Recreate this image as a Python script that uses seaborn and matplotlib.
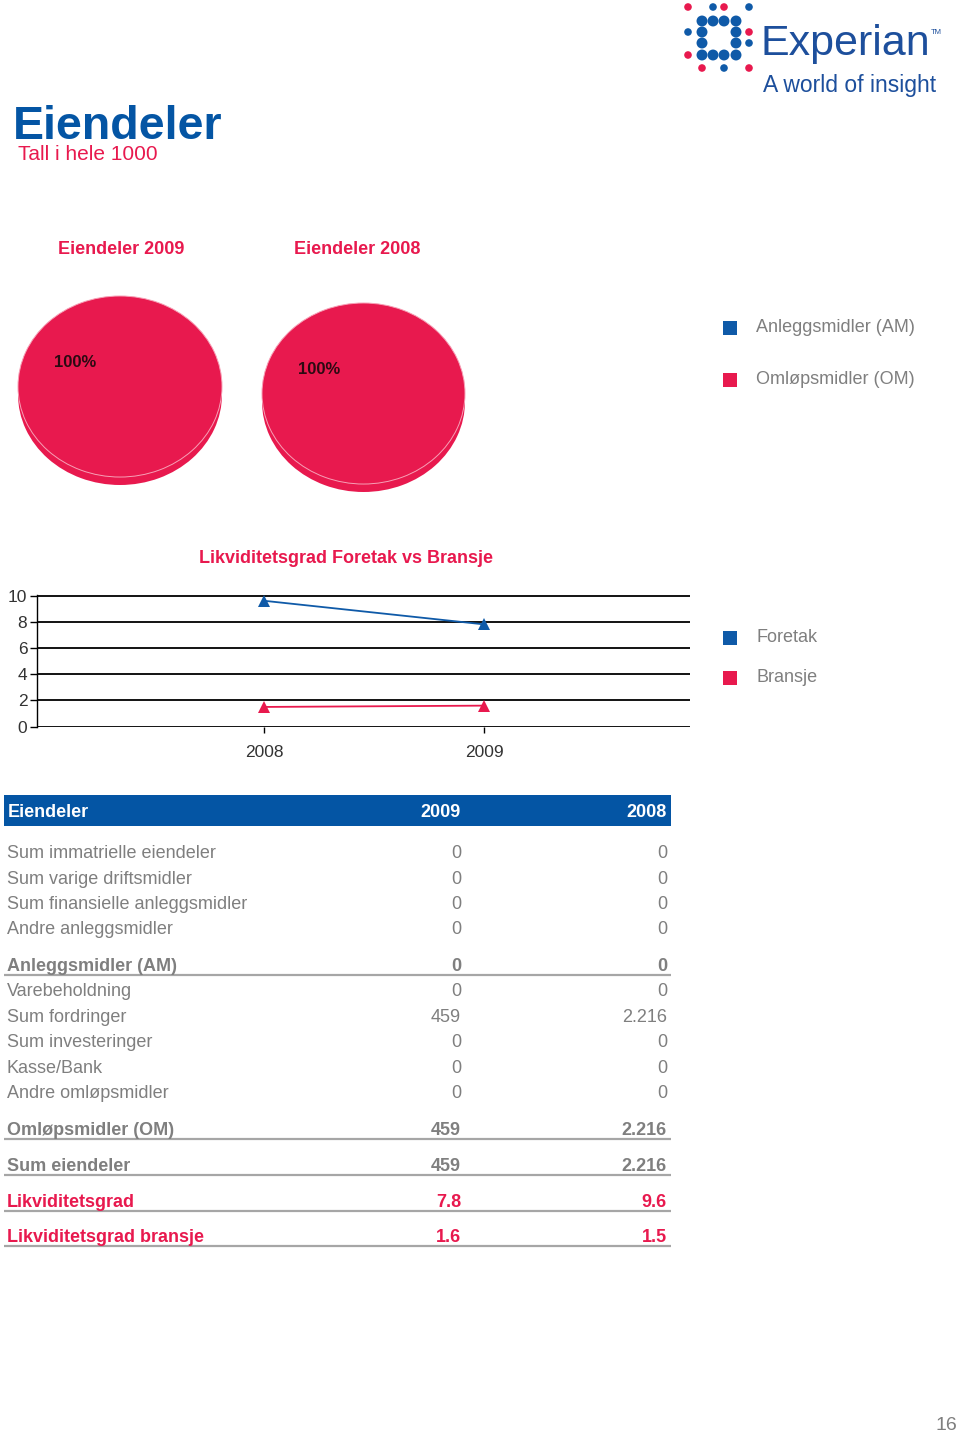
import numpy as np
import pandas as pd
import matplotlib
matplotlib.use("Agg")
import matplotlib.pyplot as plt
from matplotlib.patches import Rectangle
import seaborn as sns

# ---------------- data ----------------
pie_years = ["2009", "2008"]
pie_categories = ["Anleggsmidler (AM)", "Omløpsmidler (OM)"]
am_values = [0, 0]          # 2009, 2008
om_values = [459, 2216]     # 2009, 2008

line_years = [2008, 2009]
foretak = [9.6, 7.8]
bransje = [1.5, 1.6]
line_series = ["Foretak", "Bransje"]

table_cols = ["Eiendeler", "2009", "2008"]
table_labels = ["Sum immatrielle eiendeler", "Sum varige driftsmidler",
                "Sum finansielle anleggsmidler", "Andre anleggsmidler",
                "Anleggsmidler (AM)", "Varebeholdning", "Sum fordringer",
                "Sum investeringer", "Kasse/Bank", "Andre omløpsmidler",
                "Omløpsmidler (OM)", "Sum eiendeler", "Likviditetsgrad",
                "Likviditetsgrad bransje"]
table_2009 = ["0", "0", "0", "0", "0", "0", "459", "0", "0", "0", "459", "459", "7.8", "1.6"]
table_2008 = ["0", "0", "0", "0", "0", "0", "2.216", "0", "0", "0", "2.216", "2.216", "9.6", "1.5"]

# ---------------- style ----------------
sns.set_theme(style="white")
plt.rcParams["font.family"] = ["Liberation Sans", "DejaVu Sans"]

BLUE = "#0F5AA8"
HDR_BLUE = "#0455A4"
PINK = "#E8194E"
GRAY = "#7F7F7F"
LINE_GRAY = "#A6A6A6"

W, H = 960, 1436
fig = plt.figure(figsize=(W / 100, H / 100), dpi=100)
fig.patch.set_facecolor("white")


def ax_at(x0, y0, x1, y1):
    return fig.add_axes([x0 / W, 1 - y1 / H, (x1 - x0) / W, (y1 - y0) / H])


# ---------------- pies ----------------
def draw_pie(box, am, om):
    ax = ax_at(*box)
    depth = 0.088
    vals = [am, om]
    cols = [BLUE, PINK]
    # side (3D depth)
    ax.pie(vals, colors=cols, radius=1, center=(0, -depth), startangle=-31.5,
           wedgeprops=dict(linewidth=0), normalize=True)
    ax.pie(vals, colors=cols, radius=1, center=(0, 0), startangle=-31.5,
           autopct=lambda p: f"{p:.0f}%" if p > 0 else "", pctdistance=0.516,
           textprops=dict(fontsize=12, fontweight="bold", color="#2B0A12"),
           wedgeprops=dict(linewidth=0.7, edgecolor="#F7A0B6"), normalize=True)
    ax.set_aspect("auto")
    ax.set_xlim(-1.0, 1.0)
    ax.set_ylim(-1.0 - depth, 1.0)
    ax.axis("off")
    return ax


draw_pie((18, 296, 222, 485), am_values[0], om_values[0])
draw_pie((262, 303, 465, 492), am_values[1], om_values[1])

# ---------------- line chart ----------------
lax = ax_at(37, 595, 690, 727)
df = pd.DataFrame({
    "År": line_years * 2,
    "Serie": [line_series[0]] * 2 + [line_series[1]] * 2,
    "Verdi": foretak + bransje,
})
sns.lineplot(data=df, x="År", y="Verdi", hue="Serie",
             palette={line_series[0]: BLUE, line_series[1]: PINK},
             marker="^", markersize=9, markeredgewidth=0, linewidth=1.3,
             legend=False, ax=lax, zorder=5)
lax.set_xlim(2008 - 227 / 220, 2009 + 206 / 220)
lax.set_ylim(-0.03, 10.04)
lax.set_yticks([0, 2, 4, 6, 8, 10])
lax.set_xticks(line_years)
lax.set_xticklabels([str(y) for y in line_years])
lax.set_xlabel("")
lax.set_ylabel("")
lax.yaxis.grid(True, color="black", linewidth=1.3)
lax.xaxis.grid(False)
for s in ["top", "right", "bottom"]:
    lax.spines[s].set_visible(False)
lax.spines["left"].set_color("black")
lax.spines["left"].set_linewidth(1.0)
lax.tick_params(axis="y", which="both", left=True, length=5, width=1, color="black",
                labelsize=12.5, labelcolor="#333333", pad=2)
lax.tick_params(axis="x", which="both", bottom=True, length=4, width=1, color="black",
                labelsize=12.5, labelcolor="#333333", pad=9)
lax.patch.set_alpha(0)

# ---------------- overlay (texts, logo, table) ----------------
ov = fig.add_axes([0, 0, 1, 1])
ov.set_xlim(0, W)
ov.set_ylim(H, 0)
ov.axis("off")
ov.patch.set_alpha(0)

# logo dots
big, small = 62, 30
dots = [
    (688, 7, PINK, small), (713, 7, BLUE, small), (724, 7, PINK, small), (749, 7, BLUE, small),
    (702, 21, BLUE, big), (713, 21, BLUE, big), (724, 21, BLUE, big), (736, 21, BLUE, big),
    (688, 32, BLUE, small), (702, 32, BLUE, big), (736, 32, BLUE, big), (749, 32, PINK, small),
    (702, 43, BLUE, big), (736, 43, BLUE, big), (749, 43, BLUE, small),
    (688, 55, PINK, small), (702, 55, BLUE, big), (713, 55, BLUE, big), (724, 55, BLUE, big), (736, 55, BLUE, big),
    (702, 68, PINK, small), (724, 68, BLUE, small), (749, 68, PINK, small),
]
ov.scatter([d[0] for d in dots], [d[1] for d in dots], c=[d[2] for d in dots],
           s=[d[3] for d in dots], linewidths=0)
ov.text(760, 55, "Experian", fontsize=31, color="#1D4F9C", ha="left", va="baseline")
ov.text(931, 34, "TM", fontsize=5.5, color="#1D4F9C", ha="left", va="baseline")
ov.text(763, 92, "A world of insight", fontsize=16.5, color="#1D4F9C", ha="left", va="baseline")

# titles
ov.text(13, 139, "Eiendeler", fontsize=33.5, fontweight="bold", color=HDR_BLUE,
        ha="left", va="baseline")
ov.text(18, 160, "Tall i hele 1000", fontsize=15, color=PINK, ha="left", va="baseline")
ov.text(121, 254, f"Eiendeler {pie_years[0]}", fontsize=13, fontweight="bold", color=PINK,
        ha="center", va="baseline")
ov.text(357, 254, f"Eiendeler {pie_years[1]}", fontsize=13, fontweight="bold", color=PINK,
        ha="center", va="baseline")
ov.text(346, 563, "Likviditetsgrad Foretak vs Bransje", fontsize=13, fontweight="bold",
        color=PINK, ha="center", va="baseline")

# legends
for (yy, lab, col) in [(328, pie_categories[0], BLUE), (380, pie_categories[1], PINK),
                       (638, line_series[0], BLUE), (678, line_series[1], PINK)]:
    ov.add_patch(Rectangle((723, yy - 7), 14, 14, facecolor=col, edgecolor="none"))
    ov.text(756, yy + 4, lab, fontsize=13, color=GRAY, ha="left", va="baseline")

# table header
ov.add_patch(Rectangle((4, 795), 667, 31, facecolor=HDR_BLUE, edgecolor="none"))
ov.text(8, 817, table_cols[0], fontsize=13, fontweight="bold", color="white",
        ha="left", va="baseline")
ov.text(461, 817, table_cols[1], fontsize=13, fontweight="bold", color="white",
        ha="right", va="baseline")
ov.text(667, 817, table_cols[2], fontsize=13, fontweight="bold", color="white",
        ha="right", va="baseline")

# table rows
baselines = [858, 883.5, 909, 934.5, 971, 996, 1022, 1047, 1073, 1098, 1135, 1171, 1207, 1242]
bold_rows = {4, 10, 11}
red_rows = {12, 13}
for i, lab in enumerate(table_labels):
    y = baselines[i]
    if i in red_rows:
        kw = dict(fontweight="bold", color=PINK)
    elif i in bold_rows:
        kw = dict(fontweight="bold", color=GRAY)
    else:
        kw = dict(fontweight="normal", color=GRAY)
    ov.text(7, y, lab, fontsize=13, ha="left", va="baseline", **kw)
    ov.text(461, y, table_2009[i], fontsize=13, ha="right", va="baseline", **kw)
    ov.text(667, y, table_2008[i], fontsize=13, ha="right", va="baseline", **kw)
    if i in bold_rows or i in red_rows:
        ov.plot([4, 671], [y + 4, y + 4], color=LINE_GRAY, linewidth=1.6,
                solid_capstyle="butt")

# page number
ov.text(957, 1426, "16", fontsize=14, color=GRAY, ha="right", va="center")

fig.savefig("out.png", dpi=100, facecolor="white")
